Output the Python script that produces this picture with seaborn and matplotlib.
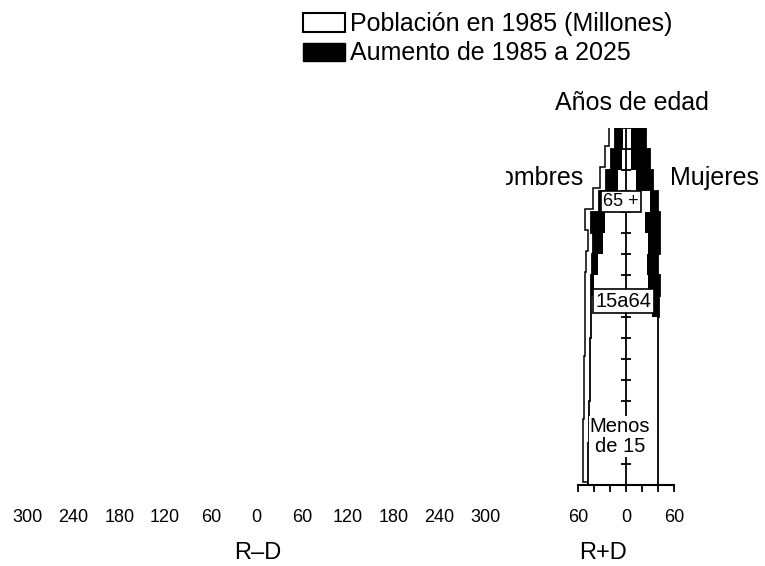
import numpy as np
import pandas as pd
import matplotlib
matplotlib.use("Agg")
import matplotlib.pyplot as plt
import seaborn as sns
from matplotlib.patches import Patch

# ---------------- data (millions), age groups from youngest to oldest ----------------
age_groups = ['0-4', '5-9', '10-14', '15-19', '20-24', '25-29', '30-34', '35-39',
              '40-44', '45-49', '50-54', '55-59', '60-64', '65-69', '70-74', '75-79', '80+']
hombres_1985 = [47, 47, 46.5, 46, 45.5, 45, 44.5, 44, 44, 40, 35, 29, 26, 25, 10, 5, 4]
hombres_aumento = [0, 0, 0, 0, 0, 0, 0, 0, 0, 4, 7.5, 12, 18, 9, 15, 14, 10]
mujeres_1985 = [39.5, 39.5, 40, 40, 40, 40, 40, 40, 32, 28, 26, 27.5, 24, 30, 12.5, 6, 6]
mujeres_aumento = [0, 0, 0, 0, 0, 0, 0, 0, 9, 14, 14, 15, 18.5, 10, 21.5, 24, 19]

ticks_rmd = [-300, -240, -180, -120, -60, 0, 60, 120, 180, 240, 300]
ticks_rpd = [-60, -40, -20, 0, 20, 40, 60]
ticklabels_rpd = ['60', '', '', '0', '', '', '60']

legend_labels = ['Población en 1985 (Millones)', 'Aumento de 1985 a 2025']

# ---------------- style ----------------
sns.set_style("white")
plt.rcParams['font.family'] = ['Liberation Sans', 'DejaVu Sans']
plt.rcParams['text.color'] = 'black'
plt.rcParams['xtick.color'] = 'black'
plt.rcParams['xtick.labelcolor'] = 'black'

df = pd.DataFrame({
    'edad': age_groups,
    'h1985': hombres_1985, 'hinc': hombres_aumento,
    'm1985': mujeres_1985, 'minc': mujeres_aumento,
})
df['h_tot'] = df['h1985'] + df['hinc']
df['m_tot'] = df['m1985'] + df['minc']
order = age_groups[::-1]                      # oldest at top (index 0)
dfo = df.set_index('edad').loc[order].reset_index()

fig = plt.figure(figsize=(7.65, 5.66), dpi=100)
W, H = 765.0, 566.0

# right panel (R+D)
axr = fig.add_axes([570 / W, (H - 485) / H, 110 / W, 357 / H])
axr.set_zorder(1)

edges = np.arange(-0.5, len(order) + 0.5, 1.0)
depth_x, depth_y = 7.0, 0.15
lw = 1.3

# pseudo 3D back faces
axr.stairs(-(dfo['h_tot'].values) - depth_x, edges - depth_y, orientation='horizontal',
           baseline=-depth_x, fill=True, facecolor='white', edgecolor='black', lw=1.1, zorder=0.5)
axr.stairs(dfo['m_tot'].values - depth_x, edges - depth_y, orientation='horizontal',
           baseline=-depth_x, fill=True, facecolor='white', edgecolor='black', lw=1.1, zorder=0.5)

# black = increase (total extent), white = 1985 population
for col in ['h_tot', 'm_tot']:
    sign = -1 if col.startswith('h') else 1
    sns.barplot(x=sign * dfo[col], y=dfo['edad'], order=order, orient='h', color='black',
                saturation=1, width=1.0, errorbar=None, linewidth=0, ax=axr)
for col in ['h1985', 'm1985']:
    sign = -1 if col.startswith('h') else 1
    sns.barplot(x=sign * dfo[col], y=dfo['edad'], order=order, orient='h', color='white',
                saturation=1, width=1.0, errorbar=None, linewidth=0, ax=axr)

# outlines
axr.stairs(-dfo['h_tot'].values, edges, orientation='horizontal', baseline=None,
           color='black', lw=lw, zorder=2)
axr.stairs(dfo['m_tot'].values, edges, orientation='horizontal', baseline=None,
           color='black', lw=lw, zorder=2)
axr.plot([-dfo['h_tot'].values[0], dfo['m_tot'].values[0]], [edges[0], edges[0]],
         color='black', lw=lw, zorder=2)

# central age axis with ticks at group boundaries
axr.vlines(0, edges[0], edges[-1], color='black', lw=lw, zorder=3)
axr.plot(np.zeros(len(edges) - 2), edges[1:-1], ls='none', marker='_', ms=7, mew=1.3,
         color='black', zorder=3)

# group labels
axr.text(-6, order.index('65-69'), '65 +', ha='center', va='center', fontsize=13, zorder=4,
         bbox=dict(boxstyle='square,pad=0.12', fc='white', ec='black', lw=1.2))
axr.text(-3.5, 7.74, '15a64', ha='center', va='center', fontsize=14.5, zorder=4,
         bbox=dict(boxstyle='square,pad=0.12', fc='white', ec='black', lw=1.2))
axr.text(-7.5, 14.2, 'Menos\nde 15', ha='center', va='center', fontsize=14.5, zorder=4,
         linespacing=1.1, bbox=dict(boxstyle='square,pad=0.05', fc='white', ec='none'))

axr.text(7.5, -1.69, 'Años de edad', ha='center', va='center', fontsize=18, clip_on=False)
axr.text(-53.75, 1.88, 'Hombres', ha='right', va='center', fontsize=18, clip_on=False)
axr.text(55, 1.88, 'Mujeres', ha='left', va='center', fontsize=18, clip_on=False)

axr.set_xlim(-70, 67.5)
axr.set_ylim(edges[-1], edges[0])
axr.set_xlabel('')
axr.set_ylabel('')
axr.set_yticks([])
axr.set_xticks(ticks_rpd)
axr.set_xticklabels(ticklabels_rpd)
for s in ['left', 'right', 'top']:
    axr.spines[s].set_visible(False)
axr.spines['bottom'].set_linewidth(1.5)
axr.spines['bottom'].set_color('black')
axr.spines['bottom'].set_bounds(ticks_rpd[0], ticks_rpd[-1])
axr.tick_params(axis='x', direction='out', length=5, width=1.3, pad=12.5, labelsize=13,
                bottom=True, colors='black')
axr.patch.set_alpha(0)

# left panel (R-D), empty
axl = fig.add_axes([8 / W, (H - 485) / H, 498 / W, 357 / H])
axl.set_zorder(5)
axl.set_facecolor('white')
axl.set_xlim(-326.2, 327.6)
axl.set_ylim(0, 1)
axl.set_yticks([])
axl.set_xticks(ticks_rmd)
axl.set_xticklabels([str(abs(t)) for t in ticks_rmd])
for s in axl.spines.values():
    s.set_visible(False)
axl.tick_params(axis='x', length=0, pad=17.5, labelsize=13, colors='black')

fig.text(258 / W, 1 - 553 / H, 'R–D', ha='center', va='center', fontsize=17)
fig.text(603 / W, 1 - 553 / H, 'R+D', ha='center', va='center', fontsize=17)

handles = [Patch(facecolor='white', edgecolor='black', lw=1.5),
           Patch(facecolor='black', edgecolor='black')]
fig.legend(handles, legend_labels, loc='upper left', bbox_to_anchor=(303 / W, 1 - 12 / H),
           frameon=False, fontsize=18, handlelength=1.68, handleheight=0.76,
           handletextpad=0.2, labelspacing=0.22, borderpad=0, borderaxespad=0)

fig.savefig('out.png', dpi=100)
